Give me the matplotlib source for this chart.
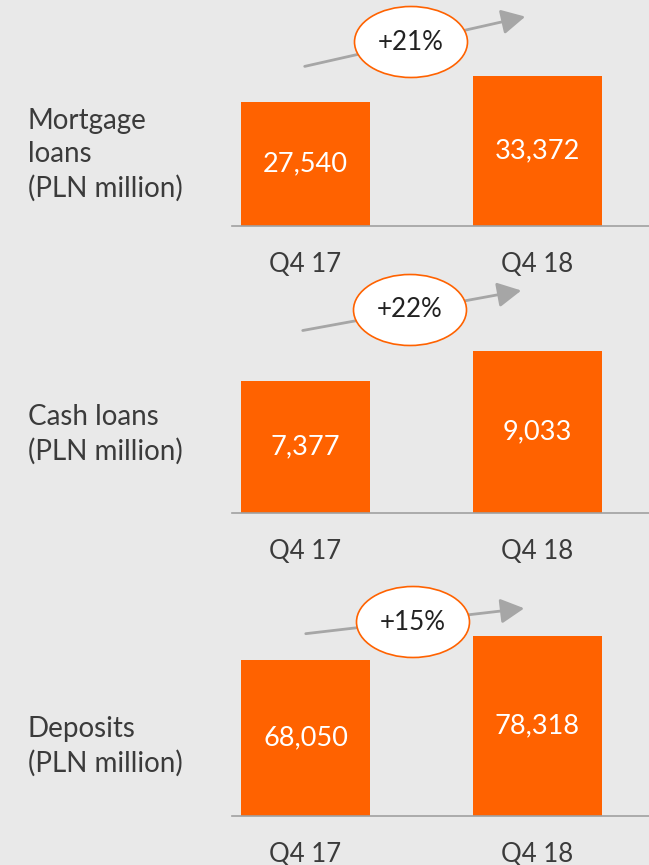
import matplotlib.pyplot as plt
from matplotlib.patches import Ellipse, FancyArrowPatch

# data
quarters = ["Q4 17", "Q4 18"]
mortgage_loans = [27540, 33372]
cash_loans = [7377, 9033]
deposits = [68050, 78318]
growth_labels = ["+21%", "+22%", "+15%"]
panel_titles = ["Mortgage\nloans\n(PLN million)", "Cash loans\n(PLN million)", "Deposits\n(PLN million)"]

W, H = 649, 865
BG = "#e9e9e9"
ORANGE = "#ff6200"
TEXT = "#3b3b3b"
ARROW = "#a6a6a6"

plt.rcParams["font.family"] = ["Lato", "DejaVu Sans"]

fig = plt.figure(figsize=(W / 100, H / 100), dpi=100)
fig.patch.set_facecolor(BG)

# layout per panel (pixels from top): axes top, baseline, headroom, title centre,
# ellipse centre, arrow start/end
panels = [
    dict(values=mortgage_loans, top=0, base=226, headroom=1.507, title_y=155,
         ell=(411, 42), arr=((302, 67), (528, 16))),
    dict(values=cash_loans, top=270, base=513, headroom=1.5, title_y=434,
         ell=(410, 310), arr=((300, 331), (524, 290))),
    dict(values=deposits, top=575, base=816, headroom=1.339, title_y=746,
         ell=(413, 622), arr=((303, 634), (527, 608))),
]

for p, growth, title in zip(panels, growth_labels, panel_titles):
    left, right = 232, 649
    ax = fig.add_axes([left / W, 1 - p["base"] / H, (right - left) / W,
                       (p["base"] - p["top"]) / H])
    ax.set_facecolor(BG)
    ax.patch.set_alpha(0)

    x = range(len(quarters))
    bars = ax.bar(x, p["values"], width=0.556, color=ORANGE)
    ax.set_xlim(-0.317, 1.481)
    ax.set_ylim(0, max(p["values"]) * p["headroom"])

    for bar, v in zip(bars, p["values"]):
        ax.text(bar.get_x() + bar.get_width() / 2, v / 2, f"{v:,}",
                ha="center", va="center", color="white", fontsize=19.5)

    ax.set_xticks(list(x))
    ax.set_xticklabels(quarters, fontsize=18.5, color=TEXT)
    ax.tick_params(axis="x", length=0, pad=19)
    ax.set_yticks([])
    for side in ["top", "left", "right"]:
        ax.spines[side].set_visible(False)
    ax.spines["bottom"].set_color("#a0a0a0")
    ax.spines["bottom"].set_linewidth(1.2)

    # left hand label
    fig.text(28 / W, 1 - p["title_y"] / H, title, ha="left", va="center",
             fontsize=20, color=TEXT, linespacing=1.35)

    # growth arrow and bubble
    (x0, y0), (x1, y1) = p["arr"]
    arrow = FancyArrowPatch((x0 / W, 1 - y0 / H), (x1 / W, 1 - y1 / H),
                            transform=fig.transFigure,
                            arrowstyle="-|>,head_length=0.8,head_width=0.42",
                            mutation_scale=18, color=ARROW, linewidth=2, zorder=5)
    fig.add_artist(arrow)
    ex, ey = p["ell"]
    ell = Ellipse((ex / W, 1 - ey / H), 113 / W, 71 / H, transform=fig.transFigure,
                  facecolor="white", edgecolor=ORANGE, linewidth=1.2, zorder=6)
    fig.add_artist(ell)
    fig.text(ex / W, 1 - ey / H, growth, ha="center", va="center",
             fontsize=18.7, color="#222222", zorder=7)

fig.savefig("out.png", dpi=100, facecolor=BG)
